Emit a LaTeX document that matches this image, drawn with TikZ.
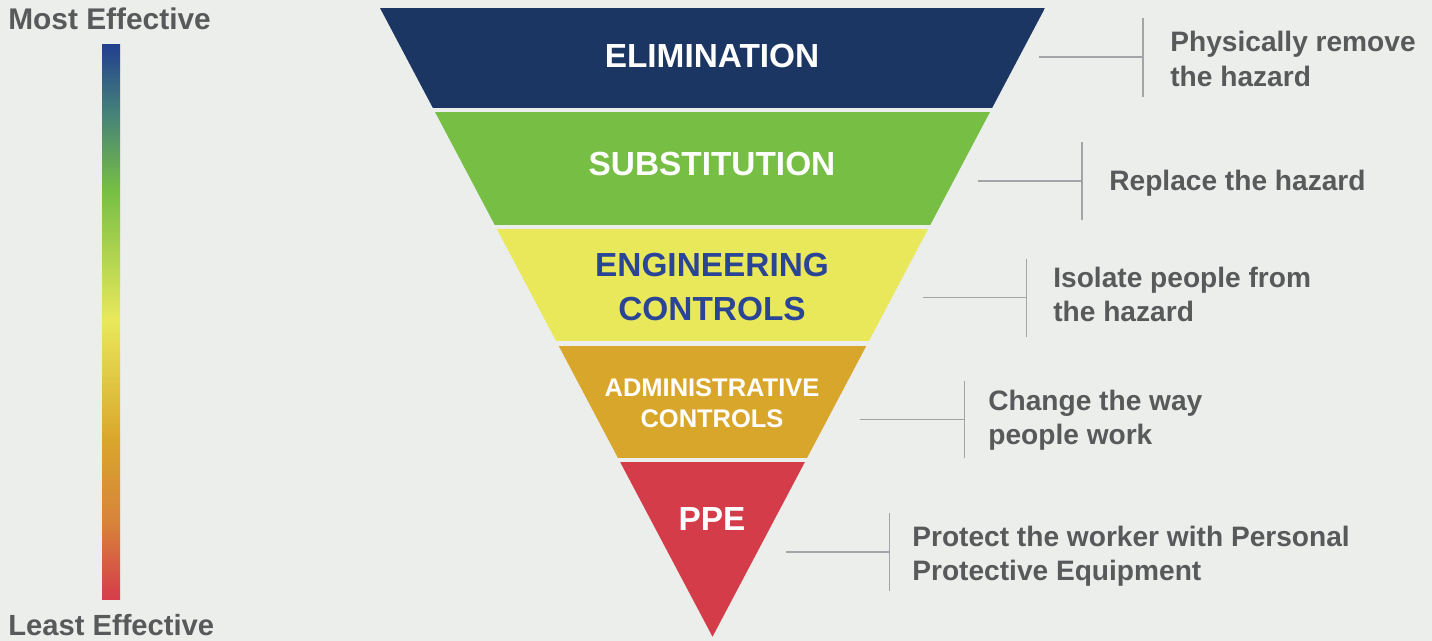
\documentclass[tikz,border=0pt]{standalone}
\usepackage{fontspec}
\setmainfont{Liberation Sans}

\definecolor{bgcol}{HTML}{ECEEEB}
\definecolor{txtgray}{HTML}{58595B}
\definecolor{linegray}{HTML}{A2A4A7}
\definecolor{elimcol}{HTML}{1C3664}
\definecolor{substcol}{HTML}{76BF44}
\definecolor{engcol}{HTML}{E9E85B}
\definecolor{engtext}{HTML}{2B4596}
\definecolor{admincol}{HTML}{D9A62C}
\definecolor{ppecol}{HTML}{D53C4A}
\definecolor{scaleblue}{HTML}{22408F}
\definecolor{scaleteal}{HTML}{45807A}
\definecolor{scaleorange}{HTML}{D8843A}

\pgfdeclareverticalshading{effscale}{100bp}{%
  color(0bp)=(ppecol); color(25bp)=(ppecol); color(32bp)=(scaleorange);
  color(39.3bp)=(admincol); color(50.2bp)=(engcol); color(61.9bp)=(substcol);
  color(69bp)=(scaleteal); color(75bp)=(scaleblue); color(100bp)=(scaleblue)}

\begin{document}
\begin{tikzpicture}[x=0.02cm,y=-0.02cm,
  band/.style={font=\fontsize{19}{23}\selectfont\bfseries,text=white,inner sep=0pt,align=center},
  remark/.style={anchor=west,font=\fontsize{16}{19.4}\selectfont\bfseries,text=txtgray,inner sep=0pt,align=left},
  leader/.style={draw=linegray,line width=0.85pt},
  scalelabel/.style={font=\fontsize{17}{20}\selectfont\bfseries,text=txtgray,inner sep=0pt,anchor=base west}]

\fill[bgcol] (0,0) rectangle (1432,641);
\useasboundingbox (0,0) rectangle (1432,641);

% effectiveness scale
\shade[shading=effscale] (102,45) rectangle (120,599);
\node[scalelabel] (most) at (8,30) {Most Effective};
\node[scalelabel,font=\fontsize{16.6}{20}\selectfont\bfseries] (least) at (8,635) {Least Effective};

% inverted triangle, cut in bands
\begin{scope}
  \clip (380,8) -- (1045,8) -- (712.5,636.7) -- cycle;
  \fill[elimcol]  (380,8)     rectangle (1045,107.7);
  \fill[substcol] (380,112.3) rectangle (1045,224.7);
  \fill[engcol]   (380,229)   rectangle (1045,341.5);
  \fill[admincol] (380,345.7) rectangle (1045,458.3);
  \fill[ppecol]   (380,462.3) rectangle (1045,640);
\end{scope}

\node[band] (elim) at (712,56) {ELIMINATION};
\node[band] (subst) at (712,164) {SUBSTITUTION};
\node[band,text=engtext,font=\fontsize{19}{24.5}\selectfont\bfseries] (eng) at (712,287) {ENGINEERING\\CONTROLS};
\node[band,font=\fontsize{14.5}{17.6}\selectfont\bfseries] (admin) at (712,403) {ADMINISTRATIVE\\CONTROLS};
\node[band] (ppe) at (712,519) {PPE};

% leaders and remarks
\coordinate (elim-s) at (1039,57);    \coordinate (elim-j) at (1143,57);
\coordinate (elim-t) at (1143,18);    \coordinate (elim-b) at (1143,97);
\draw[leader] (elim-s) -- (elim-j);
\draw[leader] (elim-t) -- (elim-b);
\node[remark] (elim-r) at (1170,59) {Physically remove\\the hazard};

\coordinate (subst-s) at (978,181);   \coordinate (subst-j) at (1082,181);
\coordinate (subst-t) at (1082,142);  \coordinate (subst-b) at (1082,220);
\draw[leader] (subst-s) -- (subst-j);
\draw[leader] (subst-t) -- (subst-b);
\node[remark] (subst-r) at (1109,183) {Replace the hazard};

\coordinate (eng-s) at (923,297.7);   \coordinate (eng-j) at (1026.7,297.7);
\coordinate (eng-t) at (1026.7,259);  \coordinate (eng-b) at (1026.7,336.7);
\draw[leader] (eng-s) -- (eng-j);
\draw[leader] (eng-t) -- (eng-b);
\node[remark] (eng-r) at (1053,294.5) {Isolate people from\\the hazard};

\coordinate (admin-s) at (860,419.3); \coordinate (admin-j) at (964.3,419.3);
\coordinate (admin-t) at (964.3,380.7); \coordinate (admin-b) at (964.3,458.3);
\draw[leader] (admin-s) -- (admin-j);
\draw[leader] (admin-t) -- (admin-b);
\node[remark] (admin-r) at (988,420.5) {Change the way\\people work};

\coordinate (ppe-s) at (786,552);     \coordinate (ppe-j) at (889.5,552);
\coordinate (ppe-t) at (889.5,513);   \coordinate (ppe-b) at (889.5,591);
\draw[leader] (ppe-s) -- (ppe-j);
\draw[leader] (ppe-t) -- (ppe-b);
\node[remark] (ppe-r) at (912,556.5) {Protect the worker with Personal\\Protective Equipment};
\end{tikzpicture}
\end{document}
